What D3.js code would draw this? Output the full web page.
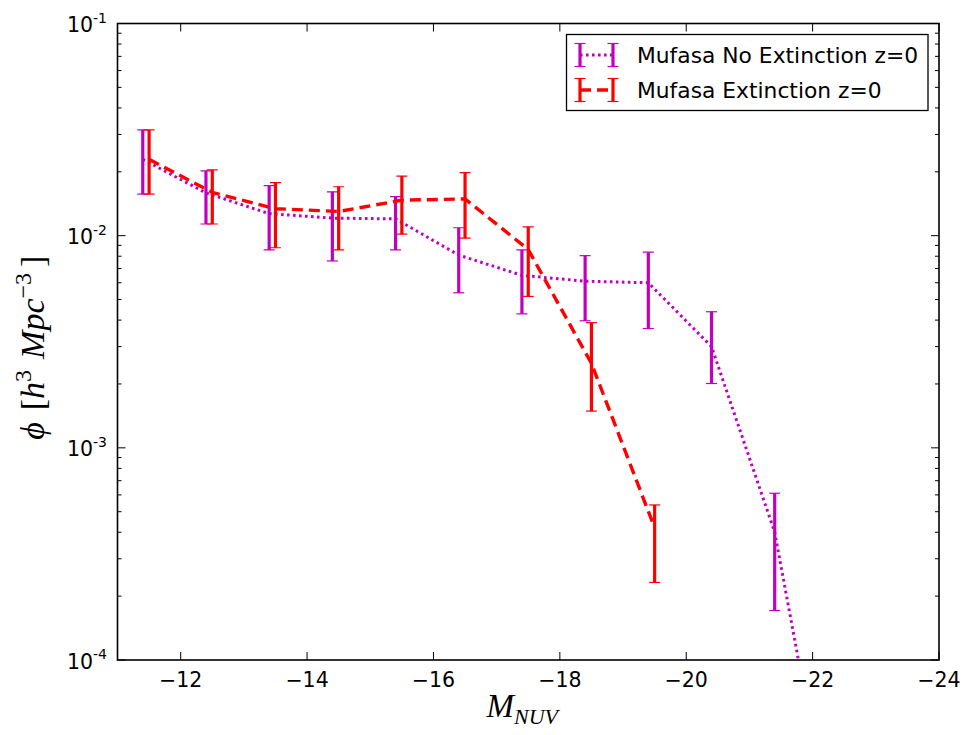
<!DOCTYPE html>
<html>
<head>
<meta charset="utf-8">
<script src="https://cdn.jsdelivr.net/npm/d3@7"></script>
<style>
  html, body { margin: 0; padding: 0; background: #fff; }
  svg { display: block; }
</style>
</head>
<body>
<svg id="chart" width="962" height="735"></svg>
<script>
// UV luminance function, Mufasa simulation at z=0

// No-extinction series
const magNoExt = [-11.4, -12.4, -13.4, -14.4, -15.4, -16.4, -17.4, -18.4, -19.4, -20.4, -21.4, -22.4];
const phiNoExt = [0.0229, 0.0159, 0.0127, 0.0121, 0.0120, 0.0081, 0.0065, 0.0061, 0.0060, 0.0030, 0.00040, 0.00001];
const loNoExt  = [0.0157, 0.01135, 0.00857, 0.0076, 0.00857, 0.00538, 0.00428, 0.00397, 0.00365, 0.00201, 0.000171, 0.000005];
const hiNoExt  = [0.0315, 0.0202, 0.0172, 0.0161, 0.01527, 0.0109, 0.00857, 0.00805, 0.00836, 0.00438, 0.000611, 0.00002];

// Extinction series
const magExt = [-11.5, -12.5, -13.5, -14.5, -15.5, -16.5, -17.5, -18.5, -19.5];
const phiExt = [0.0229, 0.0160, 0.0134, 0.0130, 0.0147, 0.0149, 0.0086, 0.0025, 0.00042];
const loExt  = [0.0157, 0.01135, 0.00877, 0.00857, 0.01016, 0.00973, 0.00517, 0.00149, 0.000232];
const hiExt  = [0.0315, 0.0204, 0.01778, 0.0170, 0.0191, 0.0198, 0.0110, 0.00389, 0.000538];

const xTicks = [-12, -14, -16, -18, -20, -22, -24];
const yTicks = [1e-1, 1e-2, 1e-3, 1e-4];
const yTickExp = ["-1", "-2", "-3", "-4"];
const seriesNames = ["Mufasa No Extinction z=0", "Mufasa Extinction z=0"];

const margin = { left: 117.5, right: 939, top: 23.5, bottom: 660 };
const svg = d3.select("#chart");
svg.append("rect").attr("width", 962).attr("height", 735).attr("fill", "#fff");

const x = d3.scaleLinear().domain([-11, -24]).range([margin.left, margin.right]);
const y = d3.scaleLog().domain([1e-4, 1e-1]).range([margin.bottom, margin.top]);

const W = margin.right - margin.left, H = margin.bottom - margin.top;

svg.append("clipPath").attr("id", "plotclip")
  .append("rect").attr("x", margin.left).attr("y", margin.top).attr("width", W).attr("height", H);

const plot = svg.append("g").attr("clip-path", "url(#plotclip)");

const magenta = "#bf00bf", red = "#ff0000";
const dotted = { dash: "2.6,3.4", lw: 3 };
const dashed = { dash: "11,6", lw: 3.4 };

function drawSeries(mags, phis, los, his, color, st) {
  const pts = mags.map((m, i) => [m, phis[i]]);
  plot.append("path")
    .datum(pts)
    .attr("fill", "none")
    .attr("stroke", color)
    .attr("stroke-width", st.lw)
    .attr("stroke-dasharray", st.dash)
    .attr("d", d3.line().x(d => x(d[0])).y(d => y(d[1])));
  const g = plot.append("g");
  mags.forEach((m, i) => {
    const cx = x(m);
    g.append("line").attr("x1", cx).attr("x2", cx)
      .attr("y1", y(los[i])).attr("y2", y(his[i]))
      .attr("stroke", color).attr("stroke-width", 3.2);
    [los[i], his[i]].forEach(v => {
      g.append("line").attr("x1", cx - 5.5).attr("x2", cx + 5.5)
        .attr("y1", y(v)).attr("y2", y(v))
        .attr("stroke", color).attr("stroke-width", 1.2);
    });
  });
}

drawSeries(magNoExt, phiNoExt, loNoExt, hiNoExt, magenta, dotted);
drawSeries(magExt, phiExt, loExt, hiExt, red, dashed);

// Ticks
const axes = svg.append("g").attr("stroke", "#000");
xTicks.forEach(t => {
  const px = x(t);
  axes.append("line").attr("x1", px).attr("x2", px).attr("y1", margin.bottom).attr("y2", margin.bottom - 8).attr("stroke-width", 1);
  axes.append("line").attr("x1", px).attr("x2", px).attr("y1", margin.top).attr("y2", margin.top + 8).attr("stroke-width", 1);
});
// log minor + major ticks on both sides
for (let e = -4; e <= -1; e++) {
  for (let k = 1; k <= 9; k++) {
    const v = k * Math.pow(10, e);
    if (v > 1e-1 * 1.0001 || v < 1e-4 * 0.999) continue;
    const py = y(v);
    const len = k === 1 ? 8 : 4;
    axes.append("line").attr("x1", margin.left).attr("x2", margin.left + len).attr("y1", py).attr("y2", py).attr("stroke-width", 1);
    axes.append("line").attr("x1", margin.right).attr("x2", margin.right - len).attr("y1", py).attr("y2", py).attr("stroke-width", 1);
  }
}

// Frame
svg.append("rect").attr("x", margin.left).attr("y", margin.top).attr("width", W).attr("height", H)
  .attr("fill", "none").attr("stroke", "#000").attr("stroke-width", 1.6);

// Tick labels
const tickFont = "'DejaVu Sans', sans-serif";
xTicks.forEach(t => {
  svg.append("text").attr("x", x(t)).attr("y", 686.5)
    .attr("text-anchor", "middle").attr("font-family", tickFont).attr("font-size", 20.5)
    .attr("fill", "#000").text("\u2212" + Math.abs(t));
});
yTicks.forEach((t, i) => {
  const txt = svg.append("text").attr("x", 107).attr("y", y(t) + 8.5)
    .attr("text-anchor", "end").attr("font-family", tickFont).attr("font-size", 20.5).attr("fill", "#000");
  txt.append("tspan").text("10");
  txt.append("tspan").attr("font-size", 14).attr("dy", -9.5).text(yTickExp[i]);
});

// Axis labels
const mathFont = "'Liberation Serif', 'DejaVu Serif', serif";
const xl = svg.append("text").attr("x", (margin.left + margin.right) / 2 - 6).attr("y", 717)
  .attr("text-anchor", "middle").attr("font-family", mathFont).attr("font-style", "italic").attr("fill", "#000");
xl.append("tspan").attr("font-size", 33).text("M");
xl.append("tspan").attr("font-size", 22).attr("dy", 7).text("NUV");

const yl = svg.append("text")
  .attr("transform", `translate(44,${(margin.top + margin.bottom) / 2 + 6}) rotate(-90)`)
  .attr("text-anchor", "middle").attr("font-family", mathFont).attr("fill", "#000").attr("font-size", 34);
yl.append("tspan").attr("font-style", "italic").text("\u03D5");
yl.append("tspan").attr("dx", 12).text("[");
yl.append("tspan").attr("font-style", "italic").text("h");
yl.append("tspan").attr("font-size", 24).attr("dy", -13).text("3");
yl.append("tspan").attr("dy", 13).attr("dx", 11).attr("font-style", "italic").text("Mpc");
yl.append("tspan").attr("font-size", 24).attr("dy", -13).text("\u22123");
yl.append("tspan").attr("dy", 13).attr("dx", 6).text("]");

// Legend
const lg = svg.append("g");
lg.append("rect").attr("x", 566.5).attr("y", 34.5).attr("width", 361.5).attr("height", 76)
  .attr("fill", "#fff").attr("stroke", "#000").attr("stroke-width", 1.3);
const legendRows = [
  { name: seriesNames[0], color: magenta, st: dotted, cy: 55 },
  { name: seriesNames[1], color: red, st: dashed, cy: 90 }
];
legendRows.forEach(r => {
  const x0 = 580, x1 = 613;
  lg.append("line").attr("x1", x0).attr("x2", x1).attr("y1", r.cy).attr("y2", r.cy)
    .attr("stroke", r.color).attr("stroke-width", r.st.lw).attr("stroke-dasharray", r.st.dash);
  [x0, x1].forEach(px => {
    lg.append("line").attr("x1", px).attr("x2", px).attr("y1", r.cy - 11.5).attr("y2", r.cy + 11.5)
      .attr("stroke", r.color).attr("stroke-width", 3.2);
    [r.cy - 11.5, r.cy + 11.5].forEach(py => {
      lg.append("line").attr("x1", px - 5.5).attr("x2", px + 5.5).attr("y1", py).attr("y2", py)
        .attr("stroke", r.color).attr("stroke-width", 1.2);
    });
  });
  lg.append("text").attr("x", 637).attr("y", r.cy + 7.5)
    .attr("font-family", tickFont).attr("font-size", 21.8).attr("fill", "#000").text(r.name);
});
</script>
</body>
</html>
